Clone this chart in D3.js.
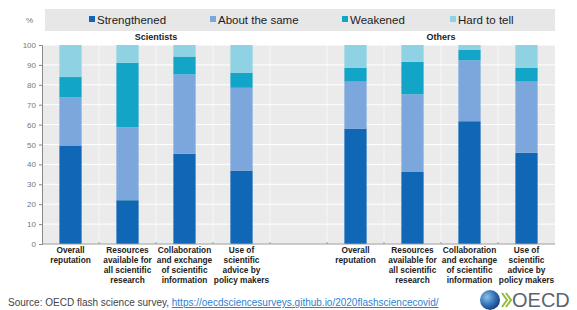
<!DOCTYPE html>
<html>
<head>
<meta charset="utf-8">
<script src="https://cdn.jsdelivr.net/npm/d3@7"></script>
<style>
  body { margin: 0; background: #fff; font-family: "Liberation Sans", Arial, sans-serif; }
  .grid line { stroke: #fff; stroke-width: 1; }
  .cat { font-weight: bold; font-size: 8.3px; fill: #222; }
</style>
</head>
<body>
<div id="chart"></div>
<script>
// slots on the x axis ("gap" = empty slot between the two groups)
var slots = ["s0", "s1", "s2", "s3", "gap", "o0", "o1", "o2", "o3"];
var catLabels = [
  ["Overall", "reputation"],
  ["Resources", "available for", "all scientific", "research"],
  ["Collaboration", "and exchange", "of scientific", "information"],
  ["Use of", "scientific", "advice by", "policy makers"]
];
var series = ["Strengthened", "About the same", "Weakened", "Hard to tell"];
var colors = ["#0f67b5", "#7ba7dc", "#12a5c8", "#8ed2e3"];

var scientists = {
  "Strengthened":   [49.5, 22.0, 45.3, 36.9],
  "About the same": [24.3, 36.7, 39.9, 41.6],
  "Weakened":       [10.1, 32.3,  9.0,  7.6],
  "Hard to tell":   [16.1,  9.0,  5.8, 13.9]
};
var others = {
  "Strengthened":   [58.0, 36.2, 61.7, 45.8],
  "About the same": [23.6, 39.0, 30.6, 35.8],
  "Weakened":       [ 7.0, 16.4,  5.2,  7.0],
  "Hard to tell":   [11.4,  8.4,  2.5, 11.4]
};
var yTicks = [0, 10, 20, 30, 40, 50, 60, 70, 80, 90, 100];

var W = 577, H = 310;
var margin = {top: 45, right: 22, bottom: 66, left: 42};
var width = W - margin.left - margin.right;
var height = H - margin.top - margin.bottom;

var svg = d3.select("#chart").append("svg")
    .attr("width", W)
    .attr("height", H);

// legend band
svg.append("rect")
    .attr("x", 45).attr("y", 9)
    .attr("width", 510).attr("height", 22)
    .attr("fill", "#e7e7e7");

svg.append("text")
    .attr("x", 26).attr("y", 23)
    .attr("font-size", 8).attr("fill", "#777")
    .text("%");

var legendX = [89, 210, 342, 450];
var legend = svg.selectAll(".leg")
    .data(series)
    .enter().append("g")
    .attr("class", "leg")
    .attr("transform", function(d, i) { return "translate(" + legendX[i] + ",0)"; });

legend.append("rect")
    .attr("x", 0).attr("y", 16)
    .attr("width", 6).attr("height", 6)
    .attr("fill", function(d, i) { return colors[i]; });

legend.append("text")
    .attr("x", 8).attr("y", 24)
    .attr("font-size", 11.5).attr("fill", "#222")
    .text(function(d) { return d; });

var g = svg.append("g")
    .attr("transform", "translate(" + margin.left + "," + margin.top + ")");

var x = d3.scaleBand().domain(slots).range([0, width]).paddingInner(0.61).paddingOuter(0.305);
var y = d3.scaleLinear().domain([0, 100]).range([height, 0]);

// plot background
g.append("rect")
    .attr("x", 0).attr("y", 0)
    .attr("width", width).attr("height", height)
    .attr("fill", "#ebebeb");

// grid
var step = x.step();
var grid = g.append("g").attr("class", "grid");
grid.selectAll(".h")
    .data(yTicks)
    .enter().append("line")
    .attr("x1", 0).attr("x2", width)
    .attr("y1", function(d) { return y(d); })
    .attr("y2", function(d) { return y(d); });
grid.selectAll(".v")
    .data(d3.range(1, slots.length))
    .enter().append("line")
    .attr("x1", function(d) { return d * step; })
    .attr("x2", function(d) { return d * step; })
    .attr("y1", 0).attr("y2", height)
    .attr("stroke-opacity", 0.6);

// build stacked data
function rows(obj, prefix) {
  return obj["Strengthened"].map(function(v, i) {
    var r = {slot: prefix + i};
    series.forEach(function(s) { r[s] = obj[s][i]; });
    return r;
  });
}
var data = rows(scientists, "s").concat(rows(others, "o"));
var stacked = d3.stack().keys(series)(data);

g.selectAll(".layer")
    .data(stacked)
    .enter().append("g")
    .attr("class", "layer")
    .attr("fill", function(d, i) { return colors[i]; })
  .selectAll("rect")
    .data(function(d) { return d; })
    .enter().append("rect")
    .attr("x", function(d) { return x(d.data.slot); })
    .attr("width", x.bandwidth())
    .attr("y", function(d) { return y(Math.min(d[1], 100)); })
    .attr("height", function(d) { return y(d[0]) - y(Math.min(d[1], 100)); });

// y axis
var yAxis = g.append("g")
    .call(d3.axisLeft(y).tickValues(yTicks).tickSize(3).tickPadding(3));
yAxis.select(".domain").attr("stroke", "#888");
yAxis.selectAll(".tick line").attr("stroke", "#888");
yAxis.selectAll("text").attr("font-size", 8).attr("fill", "#777")
    .attr("font-family", "Liberation Sans, Arial, sans-serif");

// x axis line and ticks at slot boundaries
g.append("line")
    .attr("x1", 0).attr("x2", width)
    .attr("y1", height).attr("y2", height)
    .attr("stroke", "#999");
g.selectAll(".xt")
    .data(d3.range(1, slots.length))
    .enter().append("line")
    .attr("x1", function(d) { return d * step; })
    .attr("x2", function(d) { return d * step; })
    .attr("y1", height - 2).attr("y2", height)
    .attr("stroke", "#999");

// group titles
g.append("text")
    .attr("x", 2 * step).attr("y", -5)
    .attr("text-anchor", "middle")
    .attr("font-size", 9).attr("font-weight", "bold").attr("fill", "#222")
    .text("Scientists");
g.append("text")
    .attr("x", 7 * step).attr("y", -5)
    .attr("text-anchor", "middle")
    .attr("font-size", 9).attr("font-weight", "bold").attr("fill", "#222")
    .text("Others");

// category labels
slots.forEach(function(s) {
  if (s === "gap") return;
  var lines = catLabels[+s.slice(1)];
  var t = g.append("text")
      .attr("class", "cat")
      .attr("text-anchor", "middle")
      .attr("x", x(s) + x.bandwidth() / 2)
      .attr("y", height + 9);
  lines.forEach(function(l, i) {
    t.append("tspan")
        .attr("x", x(s) + x.bandwidth() / 2)
        .attr("dy", i === 0 ? 0 : 10)
        .text(l);
  });
});

// source
var src = svg.append("text")
    .attr("x", 8).attr("y", 306)
    .attr("font-size", 10).attr("fill", "#444");
src.append("tspan").text("Source: OECD flash science survey, ");
src.append("tspan")
    .attr("fill", "#2f7fd0")
    .attr("text-decoration", "underline")
    .text("https://oecdsciencesurveys.github.io/2020flashsciencecovid/");

// OECD logo
var defs = svg.append("defs");
var grad = defs.append("radialGradient").attr("id", "globe")
    .attr("cx", "35%").attr("cy", "35%").attr("r", "70%");
grad.append("stop").attr("offset", "0%").attr("stop-color", "#8fc0e8");
grad.append("stop").attr("offset", "60%").attr("stop-color", "#2f6fb4");
grad.append("stop").attr("offset", "100%").attr("stop-color", "#173f7a");
var logo = svg.append("g").attr("transform", "translate(490,300)");
logo.append("circle").attr("r", 10).attr("fill", "url(#globe)");
logo.append("path")
    .attr("d", "M12,-7 L17,0 L12,7 M16,-7 L21,0 L16,7")
    .attr("fill", "none").attr("stroke", "#8fbf3a").attr("stroke-width", 2);
logo.append("text")
    .attr("x", 22).attr("y", 7)
    .attr("font-size", 20).attr("fill", "#5a6570")
    .attr("font-family", "Liberation Sans, Arial, sans-serif")
    .text("OECD");
</script>
</body>
</html>
